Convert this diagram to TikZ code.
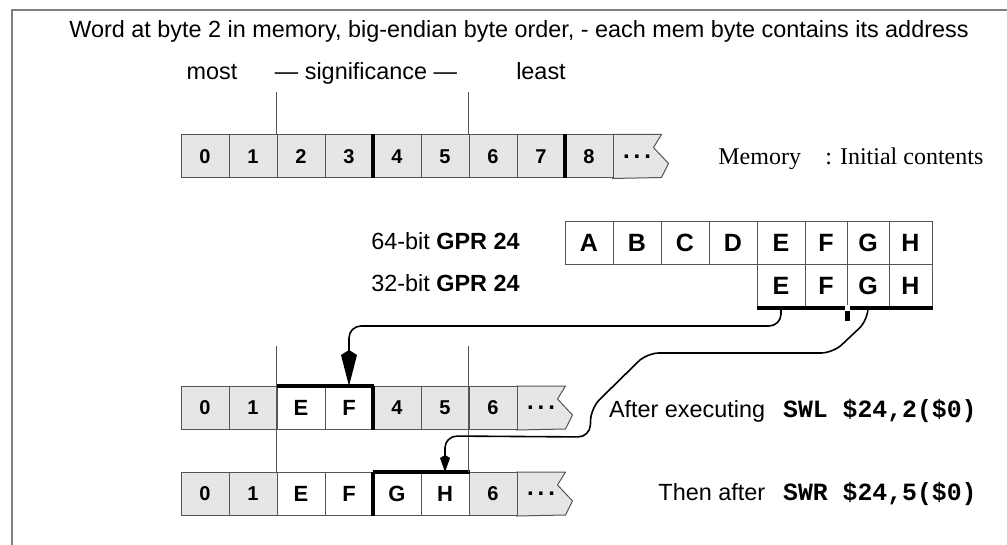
\documentclass[tikz,border=0pt]{standalone}
\usepackage{fontspec}
\setmainfont{Liberation Sans}
\setmonofont{Liberation Mono}
\newfontfamily\timesface{Liberation Serif}
\usetikzlibrary{arrows.meta,backgrounds}
\definecolor{memgray}{RGB}{230,230,230}
\definecolor{rulegray}{RGB}{85,85,85}
\tikzset{
    txt/.style={font=\fontsize{11.7}{14}\selectfont, inner sep=0pt, anchor=base},
    cell/.style={draw=rulegray, fill=memgray, line width=0.5pt, minimum width=24pt,
        minimum height=21.5pt, inner sep=0pt, font=\bfseries\fontsize{10}{10}\selectfont},
    newcell/.style={cell, fill=white, font=\bfseries\fontsize{11}{11}\selectfont},
    regcell/.style={cell, fill=white, font=\bfseries\fontsize{12.5}{12.5}\selectfont},
    dotcell/.style={cell, draw=none, fill=none, font=\bfseries\fontsize{12}{12}\selectfont},
    heavy/.style={line width=2pt},
    guide/.style={draw=rulegray, line width=0.4pt},
    frame/.style={draw=gray, line width=0.6pt},
    flow/.style={line width=0.8pt, rounded corners=6pt, -{Kite[length=18pt,width=8pt,inset=2.5pt]}},
    flowsmall/.style={flow, -{Kite[length=8.5pt,width=5pt,inset=1.5pt]}}
}
% zigzag end of a memory row, drawn behind the dots
\newcommand\zigtail[1]{%
    \begin{pgfonlayer}{background}
        \filldraw[fill=memgray, draw=rulegray, line width=0.5pt]
            (#1.south west) -- (#1.north west) -- (#1.north east)
            -- ++(-4pt,-6.5pt) -- ++(7.5pt,-8pt) -- ++(-3.5pt,-7pt) -- cycle;
    \end{pgfonlayer}}
\newcommand\dotdotdot{.\hspace{2pt}.\hspace{2pt}.}
\newcommand\codeword[1]{{\ttfamily\bfseries\fontsize{12.4}{14}\selectfont #1}}

\begin{document}
\begin{tikzpicture}[x=0.5pt,y=-0.5pt]
    \useasboundingbox (0,0) rectangle (1007,545);
    \draw[frame] (12,545) -- (12,10) -- (1007,10);

    % Heading
    \node[txt] (title) at (519,38) {Word at byte 2 in memory, big-endian byte order, - each mem byte contains its address};
    \node[txt] (most) at (212,80) {most};
    \node[txt] (signif) at (366,80) {— significance —};
    \node[txt] (least) at (541,80) {least};

    % Memory: initial contents
    \foreach \i in {0,...,8}
        \node[cell] (init\i) at (205+48*\i,156.5) {\i};
    \node[dotcell] (initT) at (637,156.5) {\dotdotdot};
    \zigtail{initT}
    \draw[heavy] (init4.north west) -- (init4.south west);
    \draw[heavy] (init8.north west) -- (init8.south west);
    \draw[guide] (init2.north west) -- ++(0,-42);
    \draw[guide] (init6.north west) -- ++(0,-42);
    \node[txt, font=\timesface\fontsize{12}{14}\selectfont, anchor=base west] (memlab) at (718,165) {Memory};
    \node[txt, font=\timesface\fontsize{12}{14}\selectfont, anchor=base west] (initlab) at (825,165) {: Initial contents};

    % Register
    \foreach \lab/\xc/\w in {A/589/24pt,B/637/24pt,C/685/24pt,D/733/24pt,E/781/24pt,F/826/21pt,G/868/21pt,H/910.5/21.5pt}
        \node[regcell, minimum width=\w] (gpr64\lab) at (\xc,243) {\lab};
    \foreach \lab/\xc/\w in {E/781/24pt,F/826/21pt,G/868/21pt,H/910.5/21.5pt}
        \node[regcell, minimum width=\w] (gpr32\lab) at (\xc,286) {\lab};
    \node[txt, anchor=base east] (lab64) at (520,250) {64-bit \textbf{GPR 24}};
    \node[txt, anchor=base east] (lab32) at (520,292) {32-bit \textbf{GPR 24}};
    \draw[heavy] (gpr32E.south west) -- (gpr32H.south east);
    \fill[white] ([xshift=-1.25pt,yshift=1.5pt]gpr32F.south east) rectangle ++(2.5pt,-3pt);
    \fill ([xshift=-1.25pt,yshift=-1.5pt]gpr32F.south east) rectangle ++(2.5pt,-5pt);

    % After SWL
    \foreach \lab/\sty [count=\i from 0] in {0/cell,1/cell,E/newcell,F/newcell,4/cell,5/cell,6/cell}
        \node[\sty] (swl\i) at (205+48*\i,408) {\lab};
    \node[dotcell] (swlT) at (541,408) {\dotdotdot};
    \zigtail{swlT}
    \draw[heavy] (swl2.north west) -- (swl3.north east);
    \draw[heavy] (swl4.north west) -- (swl4.south west);
    \node[txt, anchor=base east] (swllab) at (977,417) {After executing\hspace{9pt}\codeword{SWL \$24,2(\$0)}};

    % After SWR
    \foreach \lab/\sty [count=\i from 0] in {0/cell,1/cell,E/newcell,F/newcell,G/newcell,H/newcell,6/cell}
        \node[\sty] (swr\i) at (205+48*\i,494) {\lab};
    \node[dotcell] (swrT) at (541,494) {\dotdotdot};
    \zigtail{swrT}
    \draw[heavy] (swr4.north west) -- (swr5.north east);
    \draw[heavy] (swr4.north west) -- (swr4.south west);
    \node[txt, anchor=base east] (swrlab) at (977,500) {Then after\hspace{9pt}\codeword{SWR \$24,5(\$0)}};

    \draw[guide] (swr2.north west) -- ([yshift=20pt]swl2.north west);
    \draw[guide] (swr6.north west) -- ([yshift=20pt]swl6.north west);

    % Moves
    \draw[flow] (gpr32E.south) |- ([yshift=30pt]swl3.north) -- (swl3.north);
    \draw[flowsmall] (gpr32G.south) -- ++(0,-6pt) -- (833,353) -- (647,353) -- (591,408)
        -- (590,437) -- ([yshift=18pt]swr5.north) -- (swr5.north);
\end{tikzpicture}
\end{document}
